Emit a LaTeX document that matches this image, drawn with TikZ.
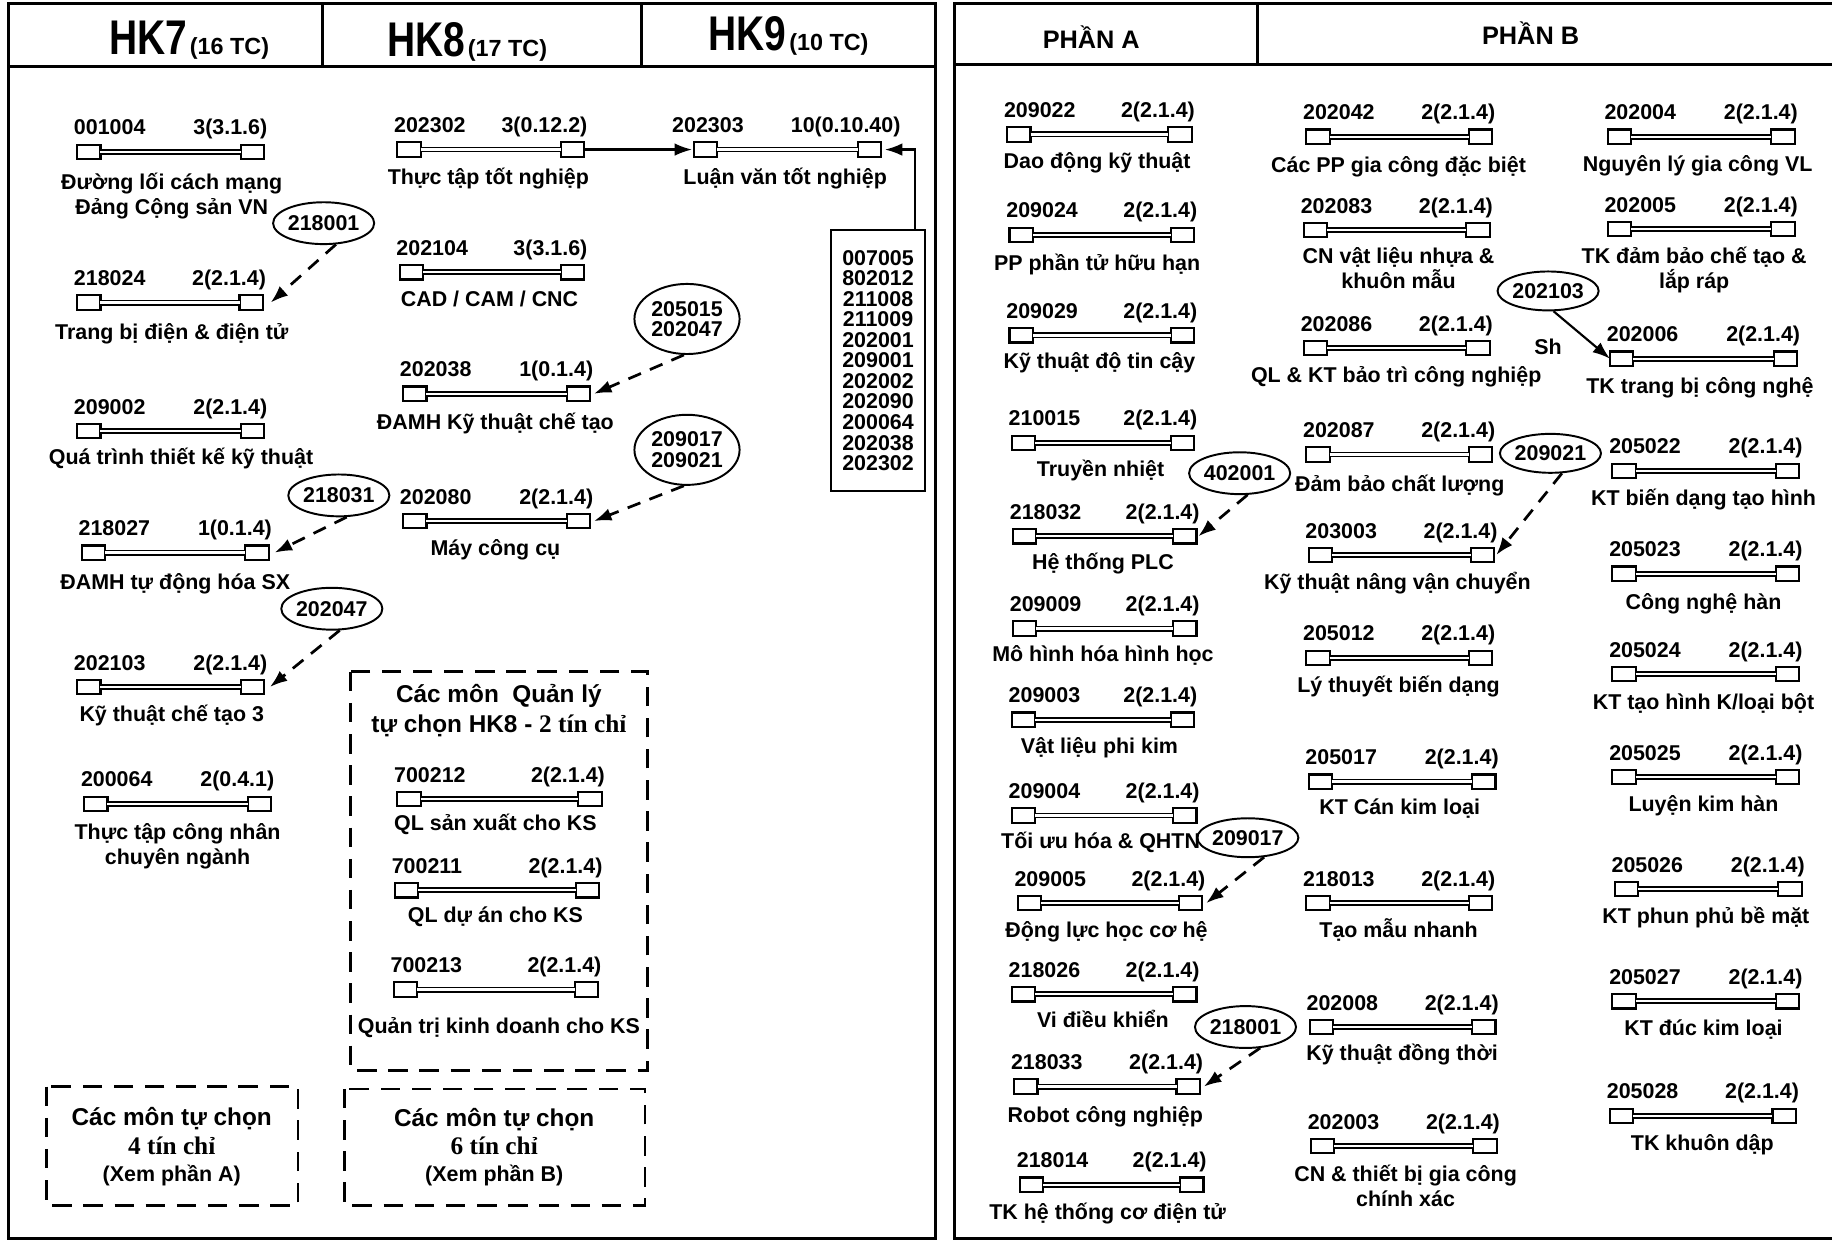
\documentclass[tikz,border=0pt]{standalone}
\usepackage{fontspec}
\setmainfont{Liberation Sans}
\newfontfamily\serifb{Liberation Serif}
\usepackage{graphicx}
\usetikzlibrary{arrows.meta,shapes.geometric}
\tikzset{
  frame/.style={line width=1.6pt},
  cbox/.style={draw, line width=1.1pt, fill=white, minimum width=12pt, minimum height=7.4pt, inner sep=0pt, outer sep=0pt},
  dline/.style={line width=0.9pt, double=white, double distance=1.2pt},
  lab/.style={font=\bfseries\fontsize{11}{12.6}\selectfont, inner sep=0pt},
  ttl/.style={lab, align=center},
  ell/.style={ellipse, draw, line width=1pt, inner sep=0pt, minimum width=50pt, minimum height=21.5pt, align=center, font=\bfseries\fontsize{11}{10.6}\selectfont},
  ell2/.style={ell, minimum width=54pt, minimum height=36pt},
  dep/.style={line width=1.4pt, dash pattern=on 7pt off 5pt, -{Latex[length=9pt,width=6.5pt]}},
  arr/.style={line width=1.1pt, -{Latex[length=9pt,width=6.5pt]}},
  dbox/.style={line width=1.4pt, dash pattern=on 10pt off 6pt},
  btxt/.style={inner sep=0pt, font=\bfseries\fontsize{12.5}{14}\selectfont},
  hdr/.style={inner sep=0pt, font=\bfseries\fontsize{13}{14}\selectfont},
}
% #7 = centre height of the LAST line of the title
\newcommand\mkcourse[8]{%
  \node[cbox,anchor=west] (c#1L) at (#2,#4) {};
  \node[cbox,anchor=east] (c#1R) at (#3,#4) {};
  \draw[dline] (c#1L.east) -- (c#1R.west);
  \node[lab,anchor=base west] (c#1n) at (#2-3,#4-14.5) {#1};
  \node[lab,anchor=base east] (c#1k) at (#3+3,#4-14.5) {#5};
  \node[ttl,anchor=base] (c#1t) at (#6,#7+6.5) {#8};
}
\newcommand\hkhead[2]{\scalebox{0.8}[1]{\fontsize{25}{25}\selectfont #1}\hspace{1.5pt}{\fontsize{12}{12}\selectfont(#2)}}
\begin{document}
\begin{tikzpicture}[x=0.6pt,y=-0.6pt]
\useasboundingbox[fill=white] (0,0) rectangle (1568,1062);

% ---------- left panel frame ----------
\draw[frame] (7,3) rectangle (801,1060);
\draw[frame] (7,57) -- (801,57);
\draw[frame] (276,3) -- (276,57);
\draw[frame] (549,3) -- (549,57);
\node[inner sep=0pt, font=\bfseries, anchor=base west] (hk7) at (93,47) {\hkhead{HK7}{16 TC}};
\node[inner sep=0pt, font=\bfseries, anchor=base west] (hk8) at (331,48) {\hkhead{HK8}{17 TC}};
\node[inner sep=0pt, font=\bfseries, anchor=base west] (hk9) at (606,43) {\hkhead{HK9}{10 TC}};

% ---------- right panel frame ----------
\draw[frame] (1568,3) -- (817,3) -- (817,1060) -- (1568,1060);
\draw[frame] (817,55) -- (1568,55);
\draw[frame] (1076,3) -- (1076,55);
\node[hdr] (pa) at (934,32) {PHẦN A};
\node[hdr] (pb) at (1310,28) {PHẦN B};

% ---------- HK7 ----------
\mkcourse{001004}{66}{226}{130}{3(3.1.6)}{147}{177}{Đường lối cách mạng\\Đảng Cộng sản VN}
\mkcourse{218024}{66}{225}{259}{2(2.1.4)}{147}{284}{Trang bị điện \& điện tử}
\mkcourse{209002}{66}{226}{369}{2(2.1.4)}{155}{391}{Quá trình thiết kế kỹ thuật}
\mkcourse{218027}{70}{230}{473}{1(0.1.4)}{150}{498}{ĐAMH tự động hóa SX}
\mkcourse{202103}{66}{226}{588}{2(2.1.4)}{147}{611}{Kỹ thuật chế tạo 3}
\mkcourse{200064}{72}{232}{688}{2(0.4.1)}{152}{733}{Thực tập công nhân\\chuyên ngành}

\node[ell] (eH7a) at (277,191) {218001};
\node[ell] (eH7b) at (290,424) {218031};
\node[ell] (eH7c) at (284,521) {202047};
\draw[dep] (eH7a.-60) -- ([xshift=4pt]c218024R.east);
\draw[dep] (eH7b.-70) -- ([xshift=3pt]c218027R.east);
\draw[dep] (eH7c.-70) -- ([xshift=3pt]c202103R.east);

% ---------- HK8 ----------
\mkcourse{202302}{340}{500}{128}{3(0.12.2)}{418}{151}{Thực tập tốt nghiệp}
\mkcourse{202104}{342}{500}{233}{3(3.1.6)}{419}{256}{CAD / CAM / CNC}
\mkcourse{202038}{345}{505}{337}{1(0.1.4)}{424}{361}{ĐAMH Kỹ thuật chế tạo}
\mkcourse{202080}{345}{505}{446}{2(2.1.4)}{424}{469}{Máy công cụ}

\node[ell2] (eH8a) at (588,273) {205015\\202047};
\node[ell2] (eH8b) at (588,385) {209017\\209021};
\draw[dep] (eH8a.-95) -- ([xshift=2pt]c202038R.east);
\draw[dep] (eH8b.-95) -- ([xshift=2pt]c202080R.east);

% ---------- HK9 ----------
\node[cbox,anchor=west] (c202303L) at (594,128) {};
\node[cbox,anchor=east] (c202303R) at (754,128) {};
\draw[dline] (c202303L.east) -- (c202303R.west);
\node[lab,anchor=base west] (c202303n) at (575,113.5) {202303};
\node[lab,anchor=base east] (c202303k) at (771,113.5) {10(0.10.40)};
\node[ttl,anchor=base] (c202303t) at (672,157.5) {Luận văn tốt nghiệp};
\draw[arr] (c202302R.east) -- ([xshift=-1pt]c202303L.west);

\node[draw, line width=1pt, minimum width=48.6pt, minimum height=134pt, inner sep=0pt, align=center,
      font=\bfseries\fontsize{11}{10.56}\selectfont] (list) at (751.5,308.5)
      {007005\\802012\\211008\\211009\\202001\\209001\\202002\\202090\\200064\\202038\\202302};
\draw[arr] ([xshift=-6pt]list.north east) |- ([xshift=2pt]c202303R.east);

% ---------- elective boxes ----------
\draw[dbox] (300,575) rectangle (554,916);
\node[btxt,anchor=base] (qlt1) at (427,601) {Các môn\ \ Quản lý};
\node[btxt,anchor=base] (qlt2) at (427,627) {tự chọn HK8 - {\serifb\fontsize{13}{14}\selectfont 2 tín chỉ}};
\mkcourse{700212}{340}{515}{684}{2(2.1.4)}{424}{704}{QL sản xuất cho KS}
\mkcourse{700211}{338}{513}{762}{2(2.1.4)}{424}{783}{QL dự án cho KS}
\mkcourse{700213}{337}{512}{847}{2(2.1.4)}{427}{878}{Quản trị kinh doanh cho KS}

\draw[dbox] (40,930) rectangle (255,1032);
\node[btxt,anchor=base] (oa1) at (147,963) {Các môn tự chọn};
\node[btxt,anchor=base,font=\serifb\bfseries\fontsize{13}{14}\selectfont] (oa2) at (147,988) {4 tín chỉ};
\node[btxt,anchor=base,font=\bfseries\fontsize{11}{12}\selectfont] (oa3) at (147,1011) {(Xem phần A)};

\draw[dbox] (295,932) rectangle (552,1032);
\node[btxt,anchor=base] (ob1) at (423,964) {Các môn tự chọn};
\node[btxt,anchor=base,font=\serifb\bfseries\fontsize{13}{14}\selectfont] (ob2) at (423,988) {6 tín chỉ};
\node[btxt,anchor=base,font=\bfseries\fontsize{11}{12}\selectfont] (ob3) at (423,1011) {(Xem phần B)};

% ---------- PHAN A ----------
\mkcourse{209022}{862}{1020}{115}{2(2.1.4)}{939}{138}{Dao động kỹ thuật}
\mkcourse{209024}{864}{1022}{201}{2(2.1.4)}{939}{225}{PP phần tử hữu hạn}
\mkcourse{209029}{864}{1022}{287}{2(2.1.4)}{941}{309}{Kỹ thuật độ tin cậy}
\mkcourse{210015}{866}{1022}{379}{2(2.1.4)}{942}{401}{Truyền nhiệt}
\mkcourse{218032}{867}{1024}{459}{2(2.1.4)}{944}{481}{Hệ thống PLC}
\mkcourse{209009}{867}{1024}{538}{2(2.1.4)}{944}{560}{Mô hình hóa hình học}
\mkcourse{209003}{866}{1022}{616}{2(2.1.4)}{941}{638}{Vật liệu phi kim}
\mkcourse{209004}{866}{1024}{698}{2(2.1.4)}{942}{720}{Tối ưu hóa \& QHTN}
\mkcourse{209005}{871}{1029}{773}{2(2.1.4)}{947}{796}{Động lực học cơ hệ}
\mkcourse{218026}{866}{1024}{851}{2(2.1.4)}{944}{873}{Vi điều khiển}
\mkcourse{218033}{868}{1027}{930}{2(2.1.4)}{946}{954}{Robot công nghiệp}
\mkcourse{218014}{873}{1030}{1014}{2(2.1.4)}{948}{1037}{TK hệ thống cơ điện tử}

\node[ell] (eA1) at (1061,405) {402001};
\node[ell, minimum width=48pt, minimum height=20pt] (eA2) at (1068,717) {209017};
\node[ell] (eA3) at (1066,879) {218001};
\draw[dep] (eA1.-70) -- ([xshift=1pt]c218032R.east);
\draw[dep] (eA2.-50) -- ([xshift=2pt]c209005R.east);
\draw[dep] (eA3.-55) -- ([xshift=2pt]c218033R.east);

% ---------- PHAN B, column 1 ----------
\mkcourse{202042}{1118}{1277}{117}{2(2.1.4)}{1197}{141}{Các PP gia công đặc biệt}
\mkcourse{202083}{1116}{1275}{197}{2(2.1.4)}{1197}{240}{CN vật liệu nhựa \&\\khuôn mẫu}
\mkcourse{202086}{1116}{1275}{298}{2(2.1.4)}{1195}{321}{QL \& KT bảo trì công nghiệp}
\mkcourse{202087}{1118}{1277}{389}{2(2.1.4)}{1198}{414}{Đảm bảo chất lượng}
\mkcourse{203003}{1120}{1279}{475}{2(2.1.4)}{1196}{498}{Kỹ thuật nâng vận chuyển}
\mkcourse{205012}{1118}{1277}{563}{2(2.1.4)}{1197}{586}{Lý thuyết biến dạng}
\mkcourse{205017}{1120}{1280}{669}{2(2.1.4)}{1198}{691}{KT Cán kim loại}
\mkcourse{218013}{1118}{1277}{773}{2(2.1.4)}{1197}{796}{Tạo mẫu nhanh}
\mkcourse{202008}{1121}{1280}{879}{2(2.1.4)}{1200}{901}{Kỹ thuật đồng thời}
\mkcourse{202003}{1122}{1281}{981}{2(2.1.4)}{1203}{1026}{CN \& thiết bị gia công\\chính xác}

% ---------- PHAN B, column 2 ----------
\mkcourse{202004}{1376}{1536}{117}{2(2.1.4)}{1453}{140}{Nguyên lý gia công VL}
\mkcourse{202005}{1376}{1536}{196}{2(2.1.4)}{1450}{240}{TK đảm bảo chế tạo \&\\lắp ráp}
\mkcourse{202006}{1378}{1538}{307}{2(2.1.4)}{1455}{330}{TK trang bị công nghệ}
\mkcourse{205022}{1380}{1540}{403}{2(2.1.4)}{1458}{426}{KT biến dạng tạo hình}
\mkcourse{205023}{1380}{1540}{491}{2(2.1.4)}{1458}{515}{Công nghệ hàn}
\mkcourse{205024}{1380}{1540}{577}{2(2.1.4)}{1458}{601}{KT tạo hình K/loại bột}
\mkcourse{205025}{1380}{1540}{665}{2(2.1.4)}{1458}{688}{Luyện kim hàn}
\mkcourse{205026}{1382}{1542}{761}{2(2.1.4)}{1460}{784}{KT phun phủ bề mặt}
\mkcourse{205027}{1380}{1540}{857}{2(2.1.4)}{1458}{880}{KT đúc kim loại}
\mkcourse{205028}{1378}{1537}{955}{2(2.1.4)}{1457}{978}{TK khuôn dập}

\node[ell, minimum width=48pt, minimum height=20pt] (eB1) at (1325,249) {202103};
\node[ell, minimum width=48pt, minimum height=20pt] (eB2) at (1327,388) {209021};
\draw[arr] (eB1.-75) -- (c202006L.west);
\node[lab] (sh) at (1325,297) {Sh};
\draw[dep] (eB2.-60) -- ([xshift=1pt]c203003R.east);
\end{tikzpicture}
\end{document}
